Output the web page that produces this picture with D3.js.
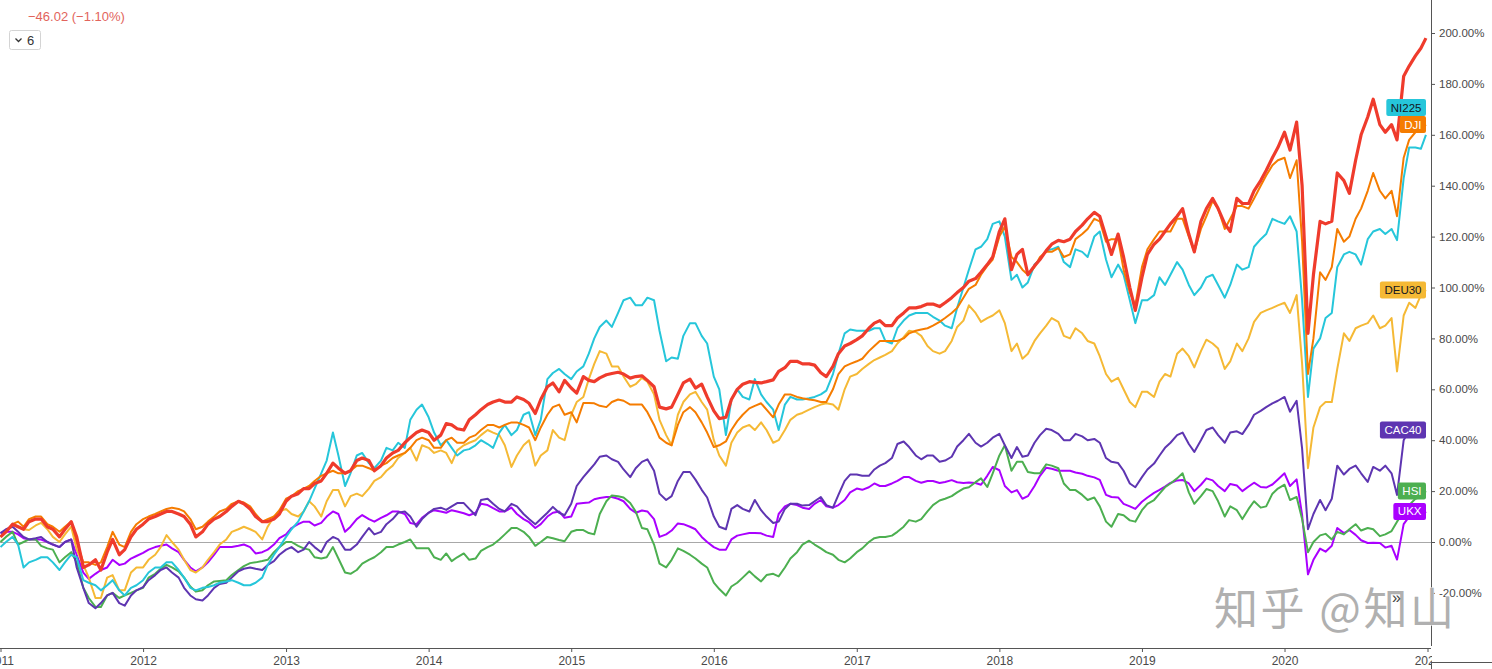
<!DOCTYPE html>
<html><head><meta charset="utf-8">
<script src="https://cdn.jsdelivr.net/npm/d3@7"></script>
<style>html,body{margin:0;padding:0;background:#fff;overflow:hidden}</style>
</head><body><svg id="chart" width="1492" height="669"></svg>
<script>
// semi-monthly observation dates (1st and 15th of each month)
const dates = [
"2011-01-01","2011-01-15","2011-02-01","2011-02-15","2011-03-01","2011-03-15","2011-04-01","2011-04-15","2011-05-01","2011-05-15","2011-06-01","2011-06-15","2011-07-01","2011-07-15","2011-08-01","2011-08-15","2011-09-01","2011-09-15","2011-10-01","2011-10-15","2011-11-01","2011-11-15","2011-12-01","2011-12-15",
"2012-01-01","2012-01-15","2012-02-01","2012-02-15","2012-03-01","2012-03-15","2012-04-01","2012-04-15","2012-05-01","2012-05-15","2012-06-01","2012-06-15","2012-07-01","2012-07-15","2012-08-01","2012-08-15","2012-09-01","2012-09-15","2012-10-01","2012-10-15","2012-11-01","2012-11-15","2012-12-01","2012-12-15",
"2013-01-01","2013-01-15","2013-02-01","2013-02-15","2013-03-01","2013-03-15","2013-04-01","2013-04-15","2013-05-01","2013-05-15","2013-06-01","2013-06-15","2013-07-01","2013-07-15","2013-08-01","2013-08-15","2013-09-01","2013-09-15","2013-10-01","2013-10-15","2013-11-01","2013-11-15","2013-12-01","2013-12-15",
"2014-01-01","2014-01-15","2014-02-01","2014-02-15","2014-03-01","2014-03-15","2014-04-01","2014-04-15","2014-05-01","2014-05-15","2014-06-01","2014-06-15","2014-07-01","2014-07-15","2014-08-01","2014-08-15","2014-09-01","2014-09-15","2014-10-01","2014-10-15","2014-11-01","2014-11-15","2014-12-01","2014-12-15",
"2015-01-01","2015-01-15","2015-02-01","2015-02-15","2015-03-01","2015-03-15","2015-04-01","2015-04-15","2015-05-01","2015-05-15","2015-06-01","2015-06-15","2015-07-01","2015-07-15","2015-08-01","2015-08-15","2015-09-01","2015-09-15","2015-10-01","2015-10-15","2015-11-01","2015-11-15","2015-12-01","2015-12-15",
"2016-01-01","2016-01-15","2016-02-01","2016-02-15","2016-03-01","2016-03-15","2016-04-01","2016-04-15","2016-05-01","2016-05-15","2016-06-01","2016-06-15","2016-07-01","2016-07-15","2016-08-01","2016-08-15","2016-09-01","2016-09-15","2016-10-01","2016-10-15","2016-11-01","2016-11-15","2016-12-01","2016-12-15",
"2017-01-01","2017-01-15","2017-02-01","2017-02-15","2017-03-01","2017-03-15","2017-04-01","2017-04-15","2017-05-01","2017-05-15","2017-06-01","2017-06-15","2017-07-01","2017-07-15","2017-08-01","2017-08-15","2017-09-01","2017-09-15","2017-10-01","2017-10-15","2017-11-01","2017-11-15","2017-12-01","2017-12-15",
"2018-01-01","2018-01-15","2018-02-01","2018-02-15","2018-03-01","2018-03-15","2018-04-01","2018-04-15","2018-05-01","2018-05-15","2018-06-01","2018-06-15","2018-07-01","2018-07-15","2018-08-01","2018-08-15","2018-09-01","2018-09-15","2018-10-01","2018-10-15","2018-11-01","2018-11-15","2018-12-01","2018-12-15",
"2019-01-01","2019-01-15","2019-02-01","2019-02-15","2019-03-01","2019-03-15","2019-04-01","2019-04-15","2019-05-01","2019-05-15","2019-06-01","2019-06-15","2019-07-01","2019-07-15","2019-08-01","2019-08-15","2019-09-01","2019-09-15","2019-10-01","2019-10-15","2019-11-01","2019-11-15","2019-12-01","2019-12-15",
"2020-01-01","2020-01-15","2020-02-01","2020-02-15","2020-03-01","2020-03-15","2020-04-01","2020-04-15","2020-05-01","2020-05-15","2020-06-01","2020-06-15","2020-07-01","2020-07-15","2020-08-01","2020-08-15","2020-09-01","2020-09-15","2020-10-01","2020-10-15","2020-11-01","2020-11-15","2020-12-01","2020-12-15","2020-12-28"
];

// main symbol (thick red line), % change since start
const mainSeries = [
2,4,7,6,5,8,9,9,6,5,2,5,8,2,-10,-9,-7,-11,-4,1,-5,-3,2,5,
7,9,10,11,12,12,11,10,7,2,4,7,9,10,12,14,16,15,13,10,8,8,9,11,
16,18,19,21,21,23,24,27,31,29,27,28,32,33,32,28,30,33,35,36,39,41,43,44,
43,40,42,46.5,46,44.5,44,48,50,52,54,55,55.8,55,55,57,56,54.5,50.5,56,61,62.5,59,63.5,
60.5,58.5,65,63.5,63,64.5,65.7,66.2,66.7,66,64.4,65,65.3,63.5,61,53,52.3,53,58,62.5,64,60.5,62,57,
51.5,48.5,49,56,60,62,63,62.7,62.5,63,63.7,67,68.5,71,71,70,70,69.5,66.5,65,69,74,77,78,
79.5,81,84,86,87,85,85,88,90,92,92,92.5,93.5,93.5,92.5,94,96,98,100,102.5,103.5,106,109,112,
122,127,107,113,115,105,108.5,111,114.5,117,118.5,118,119,122,124.5,127,129.5,128,120,113,121,112,100,91,
104,113,117,119,122,125,128,131,121,114,126,131,135,131,125,122,135,133,133,138,142,146,151,155,
161,154,165,140,82,105,126,125,126,145,142,137,150,160,167,174,164,161,164,158,183,187,191,194,198
];
const dji = [
2,4,7,8,6,9,10,10,7,6,4,6,8,0,-8,-8,-9,-8,-2,4,-1,-2,4,7,
9,10,11,12,13,13.5,13,12,9,5,6,8,10,12,13,15,16,15.5,14,11,8,9,10,12.5,
17,18,20,21,22,24,26,27,28,27,27,28,30,30,29,28,30,31,33,34,35,37,40,41,
40,37,37,40,41,39,39,41,42,44,46,46,45,46,47,47,46,45,40,45,50,53,54,50,
51,47,54.6,54.6,54.5,53.5,53,55,56,55.5,54,54,54,51,46,41,39,38,46,51,53,51,47,43,
37.3,38,39.5,44,47.5,50,52.5,53.5,54.5,52,49,54,58,58,57,56.5,56,55.7,55,55,60,66,69,70,
71,72,75,77,79,79,79,79,80,82,83,83.5,84,85,86.5,88,90,92,96,99.5,101,105,108.5,111,
120,124,112,110,107,105,108,112,114,114,115.5,112,113,119,121,123,127,126,118,119,119,107,98,93,
108,115,119,122,122,122,127,127,120,114,123,128,134,131,123,127,132,132,131,135,140,144,148,150,
151,143,150,118,66,80,106,103,108,123,118,120,127,131,138,145,138,135,138,128,151,158,161,162,164
];
const ni225 = [
-2,0,2,-1,-10,-8,-7,-6,-6,-8,-11,-8,-5,-6,-15,-16,-17,-19,-17,-15,-19,-21,-18,-17,
-15,-12,-10,-10,-8,-8,-11,-14,-18,-19,-18,-17.7,-17,-16,-15.5,-15,-16,-17,-17,-16,-14,-9,-5,-2,
2,5,8,12,16,21,27,32,43,34,22,27,34,35,31,29,32,37,36,39,37,48,52,54,
49,43,38,40,37,34,36,36.5,38,40,38.5,37,43,46,42,44,50,51,42,48,64,66.4,68,66,
64,67,69,74,80,84.5,87,84.5,90,95,96,93,93,96,95,83,71,72.5,72,81,86,86,81,78,
65,60,42,56,60,57,56,64,58,55,52,44,54,57,56,56,56.5,57,58,59.5,66,74,82,83.5,
83,83,83,84,84,79,78,84,87,89,90,90,90,88.5,87,85,84,92,100,107,115,116,119,125,
126,120,103,105,100,102,109,111,114.5,115,116,110,108,115,114,112,120,122,111,104,109,105,95,86,
95,95,97,104,101,105,110,107,101,97,100,104,105,101,96,101,109,107,108,116,119,121,127,126,
125,128,122,95,57,76,80,88,90,108,113,114,113,109,119,122,123,121,123,118.6,143,155,155,154.5,160
];
const deu30 = [
2,4,7,6,5,4.7,6.5,7.5,5,2,0,3,6,-3,-9,-14,-22,-22,-14,-13,-19,-19,-12,-10,
-10,-7,-5,-2,2.7,0,-3,-7,-11,-12,-10,-7,-4,-1,1,4,5,6,5,4,1,6,10,12,
13,11,10,12,16,14,10,16,20.4,20.4,14,18,19,18,21,24,25.5,28,30,33,35,37,32,38,
37,35,36,35,31,36,38,39,40,42,44,43,42,38,29.5,34,38,40,30,34,36,44,41,40,
50,55,57,64,70,75,74,69,69,65,61,62,64.5,63,58,48,42,38,50,55,58,59,55,52,
40,34,30,39,43,45,46,44,47,44,39,40,44,48,50,50.7,52,53,54,54.5,54,52,60,65,
66,68,70,71.5,72.5,73.5,75,78,80.5,83,82.5,81,77,75,74,75,79,84.5,87,93,90,86.5,88,89,
91,86,75,78,72,74,79,82,85,88,86.5,81,80,84,82,79,78,73,66,63,64.5,60,55,53,
59,59,57,63,66,65,74,76,73,68.6,75,79.5,78,76,68,71,78,75,80,86.5,90,91,92,93,
94,90,97,70,29,45,53,55,55,68,82,79,84,85,86,89,84,85,88,67,89,94,92,97,99
];
const cac40 = [
3.5,5,6,4,2,1,1.5,2,0,-1,-2,0,1,-10,-18,-24,-26,-24,-21,-20,-24,-25,-21,-19,
-17.7,-15,-13,-11,-10,-12,-14,-18,-21,-22.5,-23,-21,-18,-16.5,-16,-14,-11.5,-10.5,-10,-10.5,-11,-9,-7.5,-5,
-3,-2,-4,-3,0,-2,-4,0,2,1,-3,-3,-1,2,5.5,3,4,7,9,11.5,12,10,6,9,
11.5,13,13.5,12.6,14,15.3,15.3,13,10.5,16.5,17,15,13,12,15,14,11,9,7,9,11.5,13.8,11.5,10.5,
15,22,25.5,28,30.5,33.5,34,32.5,31.5,28.5,25.5,29,31.5,32.5,28,19,16.5,18,24,27.5,27.5,24.5,20.5,17.5,
10,6,5,13,14.5,13,12,16.5,12.5,10,7.5,8,13,15,15,14.3,14.5,16,17.7,14.5,13.5,18.5,24,26.5,
26.5,26,26,28.5,30,31,33,38.5,39.5,37.3,34,32.5,34,34,31.5,32,33.5,37.5,40,42.5,39,37.5,39,41,
42.5,38,33,37.3,33.5,34,39,42,44.5,44,42.5,40,40,42.5,41.5,40,40.5,39,33,31.5,31,28,23,21.5,
25.5,28.5,30.8,34,37,39,42,43,38.5,35.4,40,44,45,42,39,43,43.5,42.4,46,50,51.5,53,54.5,55.5,
57,51.2,55.5,36.7,5,11,16.5,12.5,17,30,26.5,28.7,30,27,23.6,29.5,28,30,27,18.5,40,44,44,44,44
];
const hsi = [
0,2,4,-1,0,1,1,-1.5,-2.5,-3,-8,-6,-4,-8,-18,-22,-25.5,-25.5,-21,-20,-22,-21,-20,-19,
-18,-14,-12.5,-10.5,-9,-10,-11.5,-14,-17.5,-19.5,-19,-17,-15.5,-15.3,-15,-13,-11,-9.5,-8.3,-8,-7.5,-7,-4,-2,
0,0,-1.5,-2.5,-3,-6,-6.5,-6,-2,-6.5,-12,-12.5,-11,-8.5,-7,-6,-4,-2,-2,-1,0,1,-2.5,-2.5,
-2.5,-6,-7,-4.5,-7.5,-6,-4.5,-7,-6.5,-3.5,-2,-1,1,3,5.5,5.5,4,2,-1.5,0,2,1.5,0.8,0.3,
4,4.7,4.7,3.5,3,11,16,18.3,18,17.5,15.3,12,5.5,5,-1,-8.5,-10,-7,-2.5,-3.5,-5,-6.5,-8.5,-10,
-16,-18.5,-21,-17.5,-16,-14,-11.5,-13.5,-15.5,-13,-12.5,-13.5,-10,-6.5,-4,-1,0.5,-1,-2.5,-4,-5,-7,-8,-6.5,
-4,-2.5,0,1.5,2,2,2.5,4,6,8.6,8,9,12,14.5,16.3,17,18,19.5,21,21.5,23.5,25,21.6,27,
34,38,28,31.5,31.5,27.5,27,27,30.5,30,29,23,20.4,20.4,18.5,16.5,17.5,14,8,6,11,10.5,8.5,8,
12.5,15,16.5,19,21.5,23,25,27,19.5,15,18,20.8,20,16,10,14,12.5,9,13,16,13.5,14,19,21,
22.5,16.5,17.7,9,-4,0,2.6,3.2,1,4,3,5,7,4.5,5.5,5,2.3,3,4.3,8,12,14.5,17,17.8,20
];
const ukx = [
3.5,4,4,3,1.5,1,1,1,0,-1,-2,0,1,-5,-12,-14.5,-12.5,-11,-10,-7,-9,-8.5,-6.5,-5.5,
-4.3,-3,-2,-1.5,-1,-2.5,-4,-7,-10,-11.5,-10,-8,-5,-2,-2,-2,-1.5,-1,-2,-4.5,-4,-3,-1,1.5,
3,5.5,7,8,8,6.5,7.5,10,12,11,4,6,9,10.6,9,8,9.5,10.5,12,12,11,7.5,7,9.5,
11.5,12.5,12,11.5,12.5,12,11.3,10.5,11.5,15,14.5,13.3,12,12,13.5,11,9,7.8,5.5,7,10,11.5,12,9.5,
10,15,15.3,15.5,16.8,17.3,17.7,17.7,17,16,13,11.5,12.4,12,9,2,3,4.5,7.3,7,6,5,2,0,
-2,-3,-3,1,2.5,3,3.5,3.5,3.4,2.5,2,11,14,15,14.5,13.5,13,15,16.5,14,13.5,14.5,16.5,19.5,
21,20.5,21.5,23,22,22,23,24,25.5,25.5,24,23.3,24,24,23.2,23.6,24.3,23.5,23.2,23.4,23.2,22.5,26,29.5,
28.2,22,19.5,20.4,17,18,22,26,29.2,28.8,28,28,28,27.3,26.8,26,25.4,24.4,18.5,17.7,17.5,15,14,13,
15.8,17.5,19.3,20.5,21.8,23.2,24.2,24.4,23,20,22.5,25,24.2,22,20,22.8,22.2,20,21.8,23.3,21.6,21.4,22.6,24.6,
27,22,24.6,10.6,-12.7,-7,-2.6,-3.8,-1.5,5.5,3.5,4.7,2.8,0.7,-0.4,-0.3,-0.4,-2.2,-1.5,-6.9,7,10,9.3,9.8,12
];

const seriesNames  = ["UKX","HSI","CAC40","DEU30","NI225","DJI"];
const seriesColors = ["#aa00ff","#4caf50","#5e35b1","#f5b935","#26c6da","#f57c00"];
const labelText    = ["#ffffff","#ffffff","#ffffff","#131722","#131722","#ffffff"];
const labelOrder   = ["NI225","DJI","DEU30","CAC40","HSI","UKX"];
const mainColor = "#ef3b2c";
const yTicks = [-20,0,20,40,60,80,100,120,140,160,180,200];
const yearTicks = ["2011","2012","2013","2014","2015","2016","2017","2018","2019","2020","2021"];
const headerText = "\u221246.02 (\u22121.10%)";
const intervalText = "6";
const watermark = "知乎 @知山";

const seriesData = [ukx, hsi, cac40, deu30, ni225, dji];

const parse = d3.timeParse("%Y-%m-%d");
const dts = dates.map(parse);
const svg = d3.select("#chart");
const FONT = "'Liberation Sans', Arial, sans-serif";

const x = d3.scaleTime().domain([parse("2011-01-01"), parse("2021-01-01")]).range([0.5, 1427.5]);
const y = d3.scaleLinear().domain([0, 200]).range([542, 33]);

// zero line
svg.append("line").attr("x1",0).attr("x2",1431).attr("y1",y(0)+0.5).attr("y2",y(0)+0.5)
  .attr("stroke","#a8a8a8").attr("stroke-width",1);

// lines
const line = d3.line().x((d,i)=>x(dts[i])).y(d=>y(d)).curve(d3.curveLinear);
const g = svg.append("g");
seriesData.forEach((arr,k)=>{
  g.append("path").datum(arr).attr("d",line).attr("fill","none")
   .attr("stroke",seriesColors[k]).attr("stroke-width",2).attr("stroke-linejoin","round");
});
g.append("path").datum(mainSeries).attr("d",line).attr("fill","none")
  .attr("stroke",mainColor).attr("stroke-width",3.2).attr("stroke-linejoin","round");

// bottom axis
const xAxis = d3.axisBottom(x).tickValues(yearTicks.map(t=>parse(t+"-01-01")))
  .tickFormat(d3.timeFormat("%Y")).tickSize(4).tickSizeOuter(0);
const gx = svg.append("g").attr("transform","translate(0,648)").call(xAxis);
gx.select(".domain").remove();
gx.selectAll(".tick line").attr("stroke","#555");
gx.selectAll(".tick text").attr("font-family",FONT).attr("font-size","12px").attr("fill","#4a4a4a").attr("dy","0.85em");
svg.append("line").attr("x1",0).attr("x2",1431).attr("y1",648.5).attr("y2",648.5).attr("stroke","#555");

// price scale panel
svg.append("rect").attr("x",1432).attr("y",0).attr("width",60).attr("height",669).attr("fill","#fff");
svg.append("line").attr("x1",1431.5).attr("x2",1431.5).attr("y1",0).attr("y2",646).attr("stroke","#555");
svg.append("line").attr("x1",1432).attr("x2",1492).attr("y1",662.5).attr("y2",662.5).attr("stroke","#555");
svg.append("line").attr("x1",1431.5).attr("x2",1431.5).attr("y1",662).attr("y2",669).attr("stroke","#555");

const yAxis = d3.axisRight(y).tickValues(yTicks).tickFormat(d=>d.toFixed(2)+"%").tickSize(4).tickSizeOuter(0);
const gy = svg.append("g").attr("transform","translate(1431,0)").call(yAxis);
gy.select(".domain").remove();
gy.selectAll(".tick line").attr("stroke","#555");
gy.selectAll(".tick text").attr("font-family",FONT).attr("font-size","11.5px").attr("fill","#4a4a4a").attr("x",8);

// end labels
const H = 17;
const lastVals = {};
seriesNames.forEach((n,k)=>{ lastVals[n] = seriesData[k][seriesData[k].length-1]; });
const pos = labelOrder.map(n=>y(lastVals[n]));
for (let i = pos.length-2; i >= 0; i--) { if (pos[i] > pos[i+1]-H) pos[i] = pos[i+1]-H; }
labelOrder.forEach((n,i)=>{
  const k = seriesNames.indexOf(n);
  const lg = svg.append("g");
  const t = lg.append("text").text(n).attr("font-family",FONT).attr("font-size","11.5px")
    .attr("fill",labelText[k]).attr("text-anchor","end").attr("x",1421.5).attr("y",pos[i]+4);
  const w = t.node().getComputedTextLength() + 9;
  lg.insert("rect","text").attr("x",1426-w).attr("y",pos[i]-H/2).attr("width",w).attr("height",H)
    .attr("rx",2).attr("fill",seriesColors[k]);
});

// header
svg.append("text").attr("x",28).attr("y",21).text(headerText)
  .attr("font-family",FONT).attr("font-size","13px").attr("fill","#e2645c");
svg.append("rect").attr("x",9.5).attr("y",30.5).attr("width",31).attr("height",19).attr("rx",2)
  .attr("fill","#fff").attr("stroke","#d4d4d4");
svg.append("path").attr("d","M15.5,38.5 L18.5,41.5 L21.5,38.5").attr("fill","none").attr("stroke","#333").attr("stroke-width",1.3);
svg.append("text").attr("x",27).attr("y",45).text(intervalText)
  .attr("font-family",FONT).attr("font-size","13px").attr("fill","#333");

// watermark
svg.append("text").attr("x",1214).attr("y",625).text(watermark)
  .attr("font-family","'Noto Sans CJK SC', sans-serif").attr("font-size","44px")
  .attr("textLength",240).attr("lengthAdjust","spacing")
  .attr("fill","#b0b0b0").attr("stroke","#ffffff").attr("stroke-width",0.8).attr("paint-order","stroke");
svg.append("text").attr("x",1392).attr("y",603).text("\u00bb")
  .attr("font-family",FONT).attr("font-size","16px").attr("fill","#444");
</script></body></html>
